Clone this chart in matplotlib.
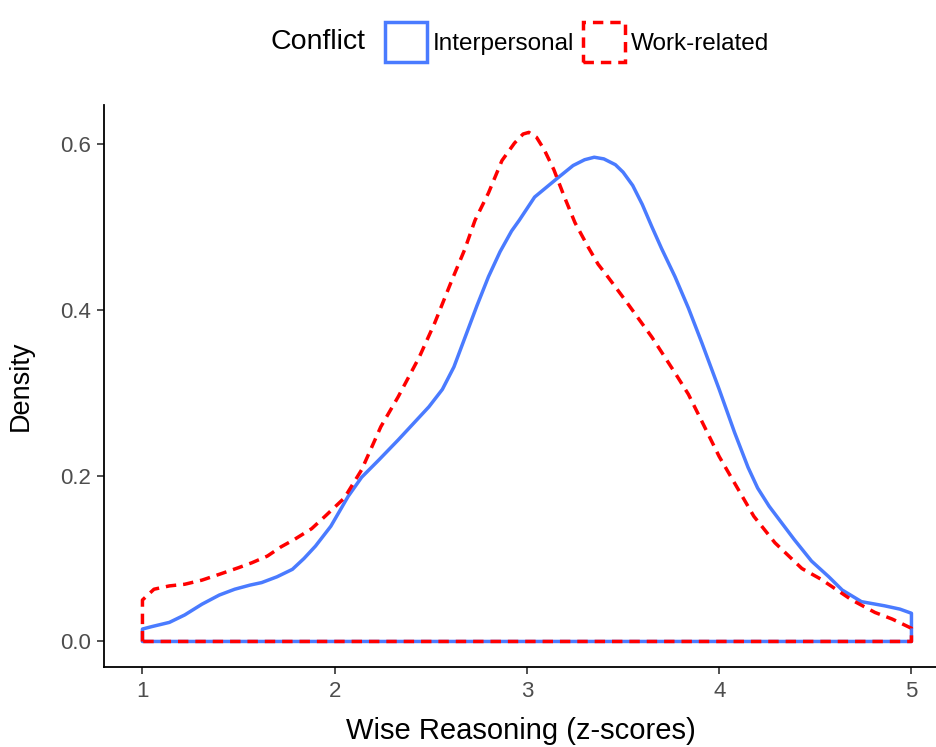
import numpy as np
import matplotlib
matplotlib.use("Agg")
import matplotlib.pyplot as plt
from matplotlib.patches import Patch

plt.rcParams["font.family"] = ["Liberation Sans", "DejaVu Sans"]

# ===============================
# DATA
# ===============================
inter_x = [1.00, 1.05, 1.14, 1.22, 1.31, 1.40, 1.48, 1.56, 1.62, 1.70, 1.78,
           1.84, 1.90, 1.98, 2.07, 2.14, 2.23, 2.33, 2.49, 2.56, 2.62, 2.68,
           2.74, 2.80, 2.86, 2.92, 2.96, 3.04, 3.16, 3.24, 3.30, 3.35, 3.40,
           3.46, 3.50, 3.55, 3.60, 3.65, 3.70, 3.77, 3.84, 3.91, 4.00, 4.08,
           4.15, 4.20, 4.26, 4.39, 4.48, 4.57, 4.64, 4.74, 4.86, 4.94, 5.00]
inter_y = [0.015, 0.018, 0.023, 0.032, 0.045, 0.056, 0.063, 0.068, 0.071, 0.078, 0.087,
           0.100, 0.115, 0.139, 0.175, 0.198, 0.219, 0.243, 0.283, 0.304, 0.331, 0.368,
           0.405, 0.440, 0.470, 0.495, 0.508, 0.536, 0.559, 0.574, 0.581, 0.584, 0.582,
           0.575, 0.566, 0.550, 0.527, 0.500, 0.474, 0.440, 0.402, 0.360, 0.304, 0.252,
           0.210, 0.185, 0.163, 0.123, 0.097, 0.078, 0.062, 0.048, 0.043, 0.039, 0.034]

work_x = [1.00, 1.06, 1.14, 1.22, 1.31, 1.40, 1.50, 1.57, 1.65, 1.72, 1.79,
          1.88, 1.95, 2.05, 2.14, 2.24, 2.33, 2.44, 2.52, 2.61, 2.675, 2.73,
          2.80, 2.87, 2.935, 2.98, 3.01, 3.05, 3.09, 3.14, 3.195, 3.25, 3.32,
          3.37, 3.42, 3.51, 3.65, 3.77, 3.84, 3.90, 4.00, 4.08, 4.18, 4.29,
          4.43, 4.53, 4.69, 4.81, 4.90, 4.99, 5.00]
work_y = [0.050, 0.063, 0.067, 0.069, 0.074, 0.081, 0.089, 0.095, 0.103, 0.114, 0.123,
          0.136, 0.151, 0.173, 0.207, 0.259, 0.295, 0.343, 0.384, 0.436, 0.472, 0.508,
          0.541, 0.580, 0.601, 0.612, 0.614, 0.608, 0.593, 0.569, 0.536, 0.505, 0.475,
          0.455, 0.440, 0.412, 0.367, 0.324, 0.298, 0.270, 0.223, 0.191, 0.151, 0.119,
          0.088, 0.075, 0.050, 0.035, 0.027, 0.017, 0.016]

labels = ["Interpersonal", "Work-related"]
colors = ["#4A7BFF", "#FF0000"]
styles = ["-", (0, (3, 2))]

x_ticks = [1, 2, 3, 4, 5]
y_ticks = [0.0, 0.2, 0.4, 0.6]


def closed(xs, ys):
    # density outline closed along the baseline, like geom_density
    px = [xs[0]] + list(xs) + [xs[-1], xs[0]]
    py = [0.0] + list(ys) + [0.0, 0.0]
    return px, py


fig = plt.figure(figsize=(9.37, 7.47), dpi=100)
ax = fig.add_axes([104 / 937, 1 - 667 / 747, 1 - 104 / 937, (667 - 105) / 747])

series = [(inter_x, inter_y), (work_x, work_y)]
for (xs, ys), col, ls in zip(series, colors, styles):
    px, py = closed(xs, ys)
    ax.fill(px, py, fill=False, edgecolor=col, linewidth=2.5,
            linestyle=ls, joinstyle="round")

ax.set_xlim(0.8, 0.8 + (937 - 104) / 192.25)
ax.set_ylim(-0.0308, 0.647)
ax.set_xticks(x_ticks)
ax.set_xticklabels([str(v) for v in x_ticks])
ax.set_yticks(y_ticks)
ax.set_yticklabels([f"{v:.1f}" for v in y_ticks])

for side in ["top", "right"]:
    ax.spines[side].set_visible(False)
for side in ["left", "bottom"]:
    ax.spines[side].set_linewidth(1.3)
    ax.spines[side].set_color("black")

ax.tick_params(axis="both", length=5, width=1.2, color="#333333",
               labelcolor="#4D4D4D", labelsize=16)
ax.tick_params(axis="x", pad=5)
ax.tick_params(axis="y", pad=4)

ax.set_xlabel("Wise Reasoning (z-scores)", fontsize=21, va="top")
ax.xaxis.set_label_coords(0.5, (667 - 717) / 562)
ax.set_ylabel("Density", fontsize=19.5)
ax.yaxis.set_label_coords((34 - 104) / 833, 0.5)

# legend on top, ggplot style with title on the left
fig.text(270 / 937, 1 - 42 / 747, "Conflict", fontsize=20.5,
         ha="left", va="center")
handles = [Patch(facecolor="none", edgecolor=c, linewidth=2.5, linestyle=s)
           for c, s in zip(colors, styles)]
fig.legend(handles, labels, loc="center left",
           bbox_to_anchor=(385 / 937, 1 - 42 / 747), ncol=2, frameon=False,
           fontsize=17.5, handlelength=1.73, handleheight=2.1,
           handletextpad=0.25, columnspacing=0.33, borderpad=0, borderaxespad=0)

plt.savefig("out.png", dpi=100)
